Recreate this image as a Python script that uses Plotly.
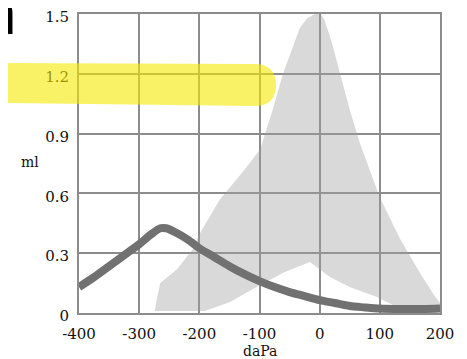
import plotly.graph_objects as go

# ---- data ----
pressure = [-400, -375, -350, -325, -300, -280, -265, -255, -240, -220, -200, -175, -150,
            -125, -100, -75, -50, -25, 0, 25, 50, 75, 100, 125, 150, 175, 200]
volume = [0.13, 0.18, 0.235, 0.29, 0.345, 0.395, 0.425, 0.425, 0.405, 0.37, 0.325, 0.28, 0.235,
          0.195, 0.16, 0.13, 0.105, 0.085, 0.065, 0.05, 0.035, 0.028, 0.022, 0.02, 0.02, 0.02, 0.022]

norm_outer_x = [-274, -272, -265, -237, -211, -199, -166, -130, -99, -80, -61, -45, -33, -20, -8, 2, 8,
                20, 34, 50, 67, 100, 134, 167, 190, 200, 200]
norm_outer_y = [0.01, 0.05, 0.15, 0.22, 0.32, 0.40, 0.57, 0.70, 0.82, 1.00, 1.20, 1.33, 1.43, 1.48, 1.50,
                1.50, 1.47, 1.36, 1.20, 1.02, 0.85, 0.58, 0.37, 0.20, 0.09, 0.05, 0.01]
norm_inner_x = [167, 129, 95, 50, 17, -16, -58, -99, -149, -191]
norm_inner_y = [0.01, 0.03, 0.08, 0.13, 0.18, 0.256, 0.206, 0.14, 0.055, 0.01]

x_ticks = [-400, -300, -200, -100, 0, 100, 200]
x_labels = ["-400", "-300", "-200", "-100", "0", "100", "200"]
y_ticks = [0, 0.3, 0.6, 0.9, 1.2, 1.5]
y_labels = ["0", "0.3", "0.6", "0.9", "1.2", "1.5"]

# the page body has an 8px margin, so the figure starts at (8, 8) on screen
OFF = 8
W, H = 467 - OFF, 359 - OFF
ML, MR, MT, MB = 79 - OFF, 27, 14 - OFF, 46
PW, PH = W - ML - MR, H - MT - MB


def px(x):  # screen x -> paper
    return (x - OFF - ML) / PW


def py(y):  # screen y -> paper
    return (H - MB - (y - OFF)) / PH


fig = go.Figure()

fig.add_trace(go.Scatter(
    x=norm_outer_x + norm_inner_x, y=norm_outer_y + norm_inner_y,
    fill="toself", fillcolor="rgba(160,160,160,0.40)",
    line=dict(width=0), mode="lines", hoverinfo="skip", showlegend=False))

fig.add_trace(go.Scatter(
    x=pressure, y=volume, mode="lines",
    line=dict(color="#717171", width=8, shape="spline", smoothing=0.8),
    showlegend=False))

gridc = "#8c8c8c"
tf = dict(family="DejaVu Serif", size=15, color="#111")
fig.update_xaxes(range=[-400, 200], tickvals=x_ticks, ticktext=x_labels,
                 showgrid=True, gridcolor=gridc, gridwidth=2,
                 showline=True, linecolor=gridc, linewidth=2, mirror=True,
                 zeroline=False, ticks="", ticklabelstandoff=6, tickfont=tf)
fig.update_yaxes(range=[0, 1.5], tickvals=y_ticks, ticktext=y_labels,
                 showgrid=True, gridcolor=gridc, gridwidth=2,
                 showline=True, linecolor=gridc, linewidth=2, mirror=True,
                 zeroline=False, ticks="", ticklabelstandoff=5, ticklabelshift=3, tickfont=tf)

fig.add_annotation(text="ml", xref="paper", yref="paper", x=px(30), y=py(162),
                   xanchor="center", yanchor="middle",
                   showarrow=False, font=dict(family="DejaVu Serif", size=14, color="#111"))
fig.add_annotation(text="daPa", xref="paper", yref="paper", x=px(260), y=py(351),
                   xanchor="center", yanchor="middle",
                   showarrow=False, font=dict(family="DejaVu Serif", size=14, color="#111"))
fig.add_annotation(text="n", xref="paper", yref="paper", x=px(18), y=py(13),
                   xanchor="right", yanchor="middle", showarrow=False,
                   font=dict(family="Liberation Sans", size=60, color="#000"))

# yellow highlighter stroke
hl = [(0, 63), (254, 64), (276, 64), (276, 85), (276, 106), (254, 106), (0, 103)]
path = ("M {:.4f},{:.4f} L {:.4f},{:.4f} Q {:.4f},{:.4f} {:.4f},{:.4f} "
        "Q {:.4f},{:.4f} {:.4f},{:.4f} L {:.4f},{:.4f} Z").format(
    *[v for p in hl for v in (px(p[0]), py(p[1]))])
fig.add_shape(type="path", path=path, xref="paper", yref="paper",
              fillcolor="#f5e900", opacity=0.6, line=dict(width=0), layer="above")

fig.update_layout(width=W, height=H,
                  margin=dict(l=ML, r=MR, t=MT, b=MB, autoexpand=False),
                  paper_bgcolor="white", plot_bgcolor="white")

fig.write_html("out.html")
